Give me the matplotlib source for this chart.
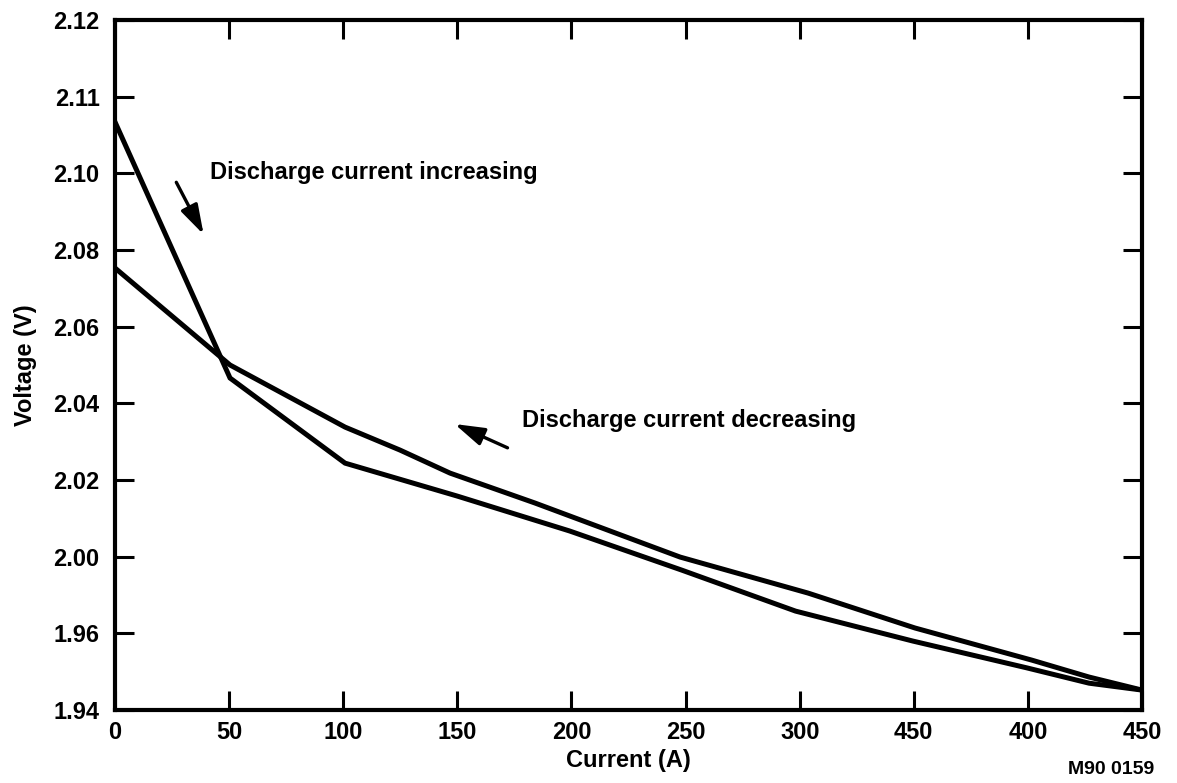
import matplotlib
matplotlib.use('Agg')
import matplotlib.pyplot as plt

# Данные: ток (А) и напряжение (В)
current_up = [0, 50.4, 100.8, 150.0, 199.2, 248.3, 298.2, 349.5, 399.5, 426.8, 450]
voltage_up = [2.0934, 2.0266, 2.0044, 1.9958, 1.9867, 1.9765, 1.9658, 1.9580, 1.9510, 1.9470, 1.9452]

current_down = [0, 50.4, 100.8, 124.9, 146.8, 184, 247.6, 303.7, 350.5, 401.8, 426.8, 450]
voltage_down = [2.0553, 2.0300, 2.0138, 2.0078, 2.0018, 1.9940, 1.9799, 1.9705, 1.9614, 1.9530, 1.9486, 1.9452]

# Подписи делений (как в оригинале)
x_ticks = [0, 50, 100, 150, 200, 250, 300, 350, 400, 450]
x_labels = ["0", "50", "100", "150", "200", "250", "300", "450", "400", "450"]
y_ticks = [2.12, 2.10, 2.08, 2.06, 2.04, 2.02, 2.00, 1.98, 1.96, 1.94]
y_labels = ["2.12", "2.11", "2.10", "2.08", "2.06", "2.04", "2.02", "2.00", "1.96", "1.94"]

plt.rcParams['font.family'] = ['Liberation Sans', 'DejaVu Sans']

fig = plt.figure(figsize=(11.77, 7.83), dpi=100)
ax = fig.add_axes([0.0977, 0.0932, 0.8726, 0.8813])

ax.plot(current_up, voltage_up, color='black', lw=3.6, solid_joinstyle='miter')
ax.plot(current_down, voltage_down, color='black', lw=3.6, solid_joinstyle='miter')

ax.set_xlim(0, 450)
ax.set_ylim(1.94, 2.12)
ax.set_xticks(x_ticks)
ax.set_xticklabels(x_labels)
ax.set_yticks(y_ticks)
ax.set_yticklabels(y_labels)
ax.tick_params(direction='in', top=True, right=True, length=14, width=2.2,
               labelsize=17, pad=8)
ax.tick_params(axis='y', pad=11)
for lab in ax.get_xticklabels() + ax.get_yticklabels():
    lab.set_fontweight('bold')
for s in ax.spines.values():
    s.set_linewidth(3)

ax.set_xlabel("Current (A)", fontsize=17, fontweight='bold')
ax.set_ylabel("Voltage (V)", fontsize=17, fontweight='bold')
ax.xaxis.set_label_coords(0.5, -0.057)
ax.yaxis.set_label_coords(-0.076, 0.5)

# Стрелки и подписи
arrow = dict(arrowstyle='-|>,head_length=1.8,head_width=0.55', color='black', lw=2.4)
ax.annotate("", xy=(39.4, 2.0634), xytext=(26.3, 2.0783), arrowprops=arrow)
ax.text(41.6, 2.0801, "Discharge current increasing", fontsize=17, fontweight='bold', va='center')

ax.annotate("", xy=(147.7, 2.0149), xytext=(173.1, 2.0081), arrowprops=arrow)
ax.text(178.3, 2.0156, "Discharge current decreasing", fontsize=17, fontweight='bold', va='center')

fig.text(0.944, 0.017, "M90 0159", fontsize=14, fontweight='bold', ha='center', va='center')

plt.savefig("out.png", dpi=100)
